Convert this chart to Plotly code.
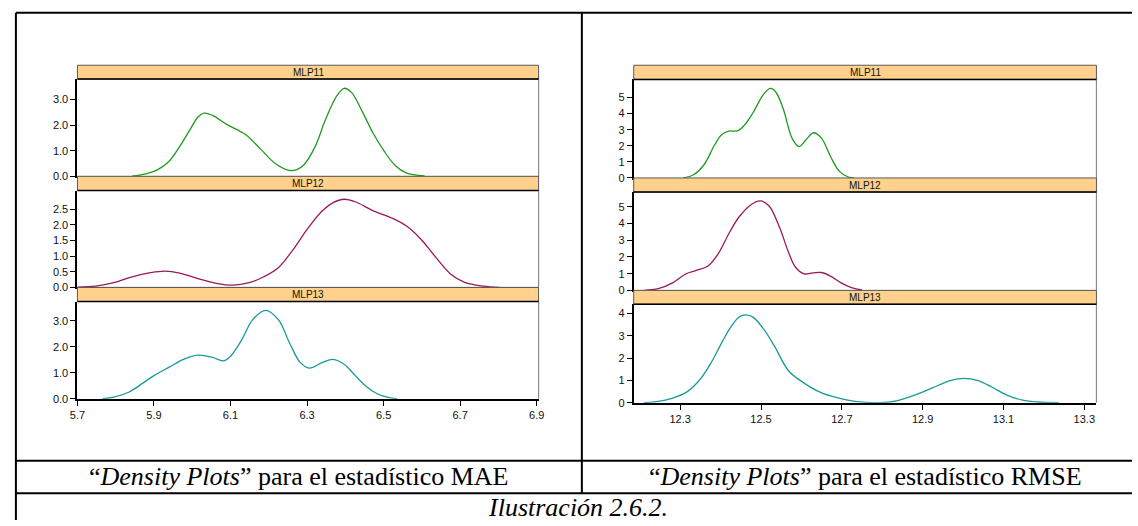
import plotly.graph_objects as go

W, H = 1138, 526

# ---- Density curves for the MAE statistic ----
mae_mlp11_x = [5.843, 5.881, 5.910, 5.939, 5.967, 5.996, 6.015, 6.031, 6.053, 6.091, 6.139, 6.177,
               6.216, 6.254, 6.273, 6.292, 6.321, 6.349, 6.378, 6.397, 6.416, 6.445, 6.473, 6.502,
               6.531, 6.559, 6.607]
mae_mlp11_y = [0.00, 0.10, 0.26, 0.58, 1.16, 1.87, 2.32, 2.47, 2.38, 2.02, 1.63, 1.09,
               0.51, 0.23, 0.26, 0.45, 1.16, 2.25, 3.15, 3.44, 3.28, 2.51, 1.67, 0.97,
               0.41, 0.13, 0.01]

mae_mlp12_x = [5.700, 5.748, 5.795, 5.843, 5.891, 5.929, 5.967, 6.015, 6.063, 6.106, 6.149, 6.187,
               6.225, 6.263, 6.301, 6.340, 6.368, 6.397, 6.426, 6.473, 6.521, 6.559, 6.597, 6.636,
               6.674, 6.712, 6.760, 6.803]
mae_mlp12_y = [0.01, 0.04, 0.15, 0.34, 0.47, 0.52, 0.46, 0.28, 0.13, 0.07, 0.15, 0.34,
               0.63, 1.20, 1.87, 2.45, 2.71, 2.82, 2.74, 2.45, 2.22, 1.97, 1.55, 0.97,
               0.44, 0.16, 0.04, 0.00]

mae_mlp13_x = [5.765, 5.795, 5.834, 5.872, 5.900, 5.939, 5.977, 6.015, 6.053, 6.082, 6.101, 6.130,
               6.158, 6.192, 6.225, 6.254, 6.282, 6.306, 6.340, 6.368, 6.397, 6.426, 6.454, 6.483,
               6.512, 6.535]
mae_mlp13_y = [0.00, 0.06, 0.25, 0.61, 0.89, 1.21, 1.52, 1.68, 1.59, 1.46, 1.65, 2.29,
               3.05, 3.41, 3.05, 2.16, 1.40, 1.18, 1.40, 1.52, 1.33, 0.89, 0.48, 0.19,
               0.05, 0.00]

# ---- Density curves for the RMSE statistic ----
rmse_mlp11_x = [12.307, 12.333, 12.359, 12.385, 12.403, 12.420, 12.442, 12.459, 12.481, 12.507,
                12.524, 12.537, 12.555, 12.577, 12.594, 12.611, 12.630, 12.650, 12.672, 12.694,
                12.716, 12.729]
rmse_mlp11_y = [0.00, 0.20, 0.82, 2.05, 2.70, 2.91, 2.93, 3.28, 4.10, 5.23,
                5.57, 5.33, 4.30, 2.46, 1.95, 2.36, 2.81, 2.46, 1.33, 0.41,
                0.06, 0.00]

rmse_mlp12_x = [12.211, 12.246, 12.281, 12.316, 12.342, 12.368, 12.394, 12.420, 12.446, 12.477,
                12.498, 12.520, 12.546, 12.568, 12.585, 12.607, 12.629, 12.650, 12.672, 12.698,
                12.724, 12.750]
rmse_mlp12_y = [0.00, 0.10, 0.45, 1.01, 1.21, 1.44, 2.19, 3.38, 4.41, 5.16,
                5.36, 5.06, 3.77, 2.29, 1.40, 0.99, 1.05, 1.07, 0.85, 0.45,
                0.16, 0.02]

rmse_mlp13_x = [12.210, 12.246, 12.277, 12.316, 12.350, 12.377, 12.403, 12.424, 12.446, 12.463,
                12.481, 12.507, 12.533, 12.568, 12.603, 12.646, 12.690, 12.733, 12.785, 12.820,
                12.855, 12.890, 12.924, 12.968, 13.003, 13.037, 13.072, 13.107, 13.150, 13.185,
                13.237]
rmse_mlp13_y = [0.00, 0.06, 0.18, 0.47, 1.06, 1.80, 2.69, 3.35, 3.84, 3.93,
                3.82, 3.28, 2.54, 1.43, 0.92, 0.47, 0.21, 0.06, 0.00, 0.03,
                0.18, 0.40, 0.66, 0.99, 1.09, 0.99, 0.69, 0.35, 0.10, 0.03,
                0.00]

model_names = ["MLP11", "MLP12", "MLP13"]
model_colors = ["#1E9B1E", "#98195B", "#1A9999"]

# axis tick values
mae_x_ticks = [5.7, 5.9, 6.1, 6.3, 6.5, 6.7, 6.9]
rmse_x_ticks = [12.3, 12.5, 12.7, 12.9, 13.1, 13.3]
mae_y_ticks_mlp11 = [0.0, 1.0, 2.0, 3.0]
mae_y_ticks_mlp12 = [0.0, 0.5, 1.0, 1.5, 2.0, 2.5]
mae_y_ticks_mlp13 = [0.0, 1.0, 2.0, 3.0]
rmse_y_ticks_mlp11 = [0, 1, 2, 3, 4, 5]
rmse_y_ticks_mlp12 = [0, 1, 2, 3, 4, 5]
rmse_y_ticks_mlp13 = [0, 1, 2, 3, 4]

caption_mae = "“<i>Density Plots</i>” para el estadístico MAE"
caption_rmse = "“<i>Density Plots</i>” para el estadístico RMSE"
caption_fig = "<i>Ilustración 2.6.2.</i>"

# ---- layout geometry (pixels) ----
col_left = dict(x0=70.3, x1=537.2, xr=[5.70, 6.905], ticks=mae_x_ticks)
col_right = dict(x0=633.5, x1=1102.0, xr=[12.185, 13.33], ticks=rmse_x_ticks)

# panels: column, strip top, panel top, panel bottom, y max, y ticks, tick format
panels = [
    (col_left, 66.0, 80.0, 178.3, 3.80, mae_y_ticks_mlp11, ".1f"),
    (col_left, 178.3, 192.7, 290.7, 3.10, mae_y_ticks_mlp12, ".1f"),
    (col_left, 290.7, 305.0, 403.3, 3.75, mae_y_ticks_mlp13, ".1f"),
    (col_right, 66.0, 80.3, 180.0, 6.13, rmse_y_ticks_mlp11, "d"),
    (col_right, 180.0, 194.3, 293.7, 5.89, rmse_y_ticks_mlp12, "d"),
    (col_right, 293.7, 307.7, 407.3, 4.41, rmse_y_ticks_mlp13, "d"),
]

curves = [
    (mae_mlp11_x, mae_mlp11_y), (mae_mlp12_x, mae_mlp12_y), (mae_mlp13_x, mae_mlp13_y),
    (rmse_mlp11_x, rmse_mlp11_y), (rmse_mlp12_x, rmse_mlp12_y), (rmse_mlp13_x, rmse_mlp13_y),
]


def fx(p):
    return p / W


def fy(p):
    return 1 - p / H


fig = go.Figure()
shapes = []
annotations = []
tick_font = dict(family="Liberation Sans, Arial, sans-serif", size=11, color="#111111")

for i, ((col, s_top, p_top, p_bot, ymax, yticks, yfmt), (cx, cy)) in enumerate(zip(panels, curves)):
    n = i + 1
    xa = "x" if n == 1 else f"x{n}"
    ya = "y" if n == 1 else f"y{n}"
    is_bottom = (i % 3 == 2)
    fig.add_trace(go.Scatter(
        x=cx, y=cy, mode="lines", xaxis=xa, yaxis=ya,
        line=dict(color=model_colors[i % 3], width=1.3, shape="spline", smoothing=1.0),
        showlegend=False, hoverinfo="skip",
    ))
    xkey = "xaxis" if n == 1 else f"xaxis{n}"
    ykey = "yaxis" if n == 1 else f"yaxis{n}"
    fig.update_layout(**{
        xkey: dict(
            domain=[fx(col["x0"]), fx(col["x1"])], anchor=ya, range=col["xr"],
            showgrid=False, zeroline=False, showline=True, linecolor="black", linewidth=2,
            ticks="outside" if is_bottom else "", ticklen=5, tickwidth=1, tickcolor="black",
            tickvals=col["ticks"], tickformat=".1f", showticklabels=is_bottom,
            tickfont=tick_font,
        ),
        ykey: dict(
            domain=[fy(p_bot), fy(p_top)], anchor=xa, range=[0, ymax],
            showgrid=False, zeroline=False, showline=True, linecolor="black", linewidth=2,
            ticks="outside", ticklen=5, tickwidth=1, tickcolor="black",
            tickvals=yticks, tickformat=yfmt, tickfont=tick_font,
        ),
    })
    # right edge of the panel frame
    shapes.append(dict(type="line", xref="paper", yref="paper",
                       x0=fx(col["x1"]), x1=fx(col["x1"]), y0=fy(p_bot), y1=fy(p_top),
                       line=dict(color="#8a8a8a", width=1.2)))
    # strip with panel name
    shapes.append(dict(type="rect", xref="paper", yref="paper",
                       x0=fx(col["x0"]), x1=fx(col["x1"]), y0=fy(p_top), y1=fy(s_top),
                       fillcolor="#FFD18C", line=dict(color="#5a5a5a", width=1)))
    shapes.append(dict(type="line", xref="paper", yref="paper",
                       x0=fx(col["x0"]), x1=fx(col["x1"]), y0=fy(p_top), y1=fy(p_top),
                       line=dict(color="black", width=1.5)))
    annotations.append(dict(xref="paper", yref="paper",
                            x=fx((col["x0"] + col["x1"]) / 2), y=fy((s_top + p_top) / 2 + 0.5),
                            text=model_names[i % 3], showarrow=False,
                            xanchor="center", yanchor="middle",
                            font=dict(family="Liberation Sans, Arial, sans-serif", size=10,
                                      color="#111111")))

# table rules around the two charts and their captions
rule = dict(color="black", width=2)
shapes += [
    dict(type="line", xref="paper", yref="paper", x0=fx(8), x1=1, y0=fy(13), y1=fy(13), line=rule),
    dict(type="line", xref="paper", yref="paper", x0=fx(8), x1=fx(8), y0=fy(13), y1=0, line=rule),
    dict(type="line", xref="paper", yref="paper", x0=fx(581), x1=fx(581), y0=fy(13), y1=fy(499), line=rule),
    dict(type="line", xref="paper", yref="paper", x0=fx(8), x1=1, y0=fy(466), y1=fy(466), line=rule),
    dict(type="line", xref="paper", yref="paper", x0=fx(8), x1=1, y0=fy(499), y1=fy(499), line=rule),
]

serif = dict(family="Liberation Serif, Times New Roman, serif", size=26, color="black")
annotations += [
    dict(xref="paper", yref="paper", x=fx(295), y=fy(482), text=caption_mae, showarrow=False,
         xanchor="center", yanchor="middle", font=serif),
    dict(xref="paper", yref="paper", x=fx(868), y=fy(482), text=caption_rmse, showarrow=False,
         xanchor="center", yanchor="middle", font=serif),
    dict(xref="paper", yref="paper", x=fx(577), y=fy(513), text=caption_fig, showarrow=False,
         xanchor="center", yanchor="middle", font=serif),
]

fig.update_layout(
    width=W, height=H, margin=dict(l=0, r=0, t=0, b=0),
    paper_bgcolor="white", plot_bgcolor="white",
    shapes=shapes, annotations=annotations, showlegend=False,
)

fig.write_html("out.html")
